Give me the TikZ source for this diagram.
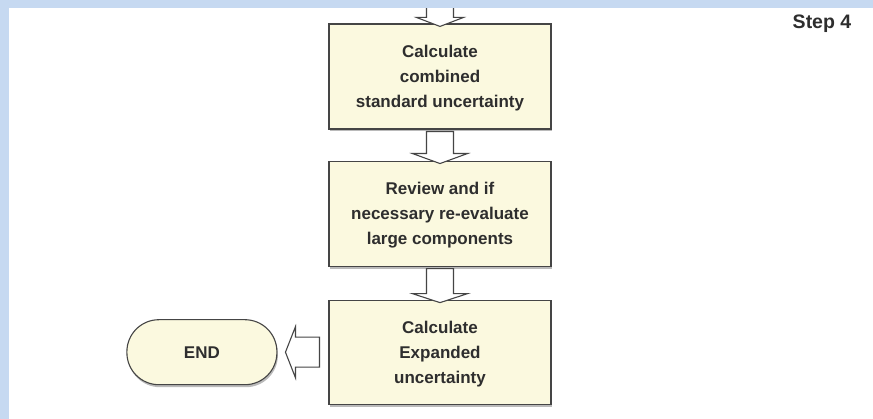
\documentclass[tikz,border=0pt]{standalone}
\usepackage{fontspec}
\setmainfont{Liberation Sans}
\usetikzlibrary{positioning,calc,shadows}

\definecolor{cream}{HTML}{FBF9DF}
\definecolor{framebl}{HTML}{C6D9F1}
\definecolor{edgegr}{HTML}{454545}
\definecolor{textgr}{HTML}{2E2E2E}

\begin{document}
\begin{tikzpicture}[
        x=1pt, y=1pt,
        node distance=31pt,
        box/.style={rectangle, draw=edgegr, line width=1.1pt, fill=cream, minimum width=222pt, minimum height=105pt, text depth=0pt, align=center, text=textgr, font=\bfseries\fontsize{17}{25}\selectfont, drop shadow={shadow xshift=1pt, shadow yshift=-2.5pt, fill=black!45, opacity=0.6}},
        stopbox/.style={rectangle, draw=edgegr, line width=1.1pt, fill=cream, rounded corners=32pt, minimum width=150pt, minimum height=65pt, align=center, text=textgr, font=\bfseries\fontsize{17}{25}\selectfont, drop shadow={shadow xshift=1pt, shadow yshift=-2.5pt, fill=black!45, opacity=0.6}},
        blockarrow/.style={draw=edgegr, line width=1.1pt, fill=white, line join=miter}
    ]
    \useasboundingbox (0,0) rectangle (873,419);
    \fill[white] (0,0) rectangle (873,419);

    % Define nodes - main column
    \node[box] (comb) at (440,342.5) {Calculate\\combined\\standard uncertainty};
    \node[box] (review) [below=31pt of comb] {Review and if\\necessary re-evaluate\\large components};
    \node[box, minimum height=104pt] (expand) [below=33pt of review] {Calculate\\Expanded\\uncertainty};

    % End node, left of last box
    \node[stopbox] (endnode) [left=51pt of expand] {END};

    % Step label
    \node[font=\bfseries\fontsize{19.5}{22}\selectfont, text=textgr] (steplbl) at (822,395) {Step 4};

    % Incoming arrow from above
    \coordinate (topin) at (440,419);
    \draw[blockarrow] ($(topin)+(-13.5,0)$) -- ($(comb.north)+(-13.5,6)$) -- ($(comb.north)+(-23.5,6)$) -- ($(comb.north)+(0,-3)$) -- ($(comb.north)+(23.5,6)$) -- ($(comb.north)+(13.5,6)$) -- ($(topin)+(13.5,0)$);

    % Define connections
    \draw[blockarrow] ($(comb.south)+(-13.5,-2)$) -- ($(review.north)+(-13.5,7)$) -- ($(review.north)+(-27.5,7)$) -- ($(review.north)+(0,-3)$) -- ($(review.north)+(27.5,7)$) -- ($(review.north)+(13.5,7)$) -- ($(comb.south)+(13.5,-2)$) -- cycle;
    \draw[blockarrow] ($(review.south)+(-13.5,-2)$) -- ($(expand.north)+(-13.5,6)$) -- ($(expand.north)+(-27.5,6)$) -- ($(expand.north)+(0,-3)$) -- ($(expand.north)+(27.5,6)$) -- ($(expand.north)+(13.5,6)$) -- ($(review.south)+(13.5,-2)$) -- cycle;
    \draw[blockarrow] ($(expand.west)+(-9,15)$) -- ($(endnode.east)+(18,15)$) -- ($(endnode.east)+(18,25.5)$) -- ($(endnode.east)+(8,0)$) -- ($(endnode.east)+(18,-25.5)$) -- ($(endnode.east)+(18,-15)$) -- ($(expand.west)+(-9,-15)$) -- cycle;

    % Blue frame on top and left
    \fill[framebl] (0,411) rectangle (873,419);
    \fill[framebl] (0,0) rectangle (9,419);
\end{tikzpicture}
\end{document}
